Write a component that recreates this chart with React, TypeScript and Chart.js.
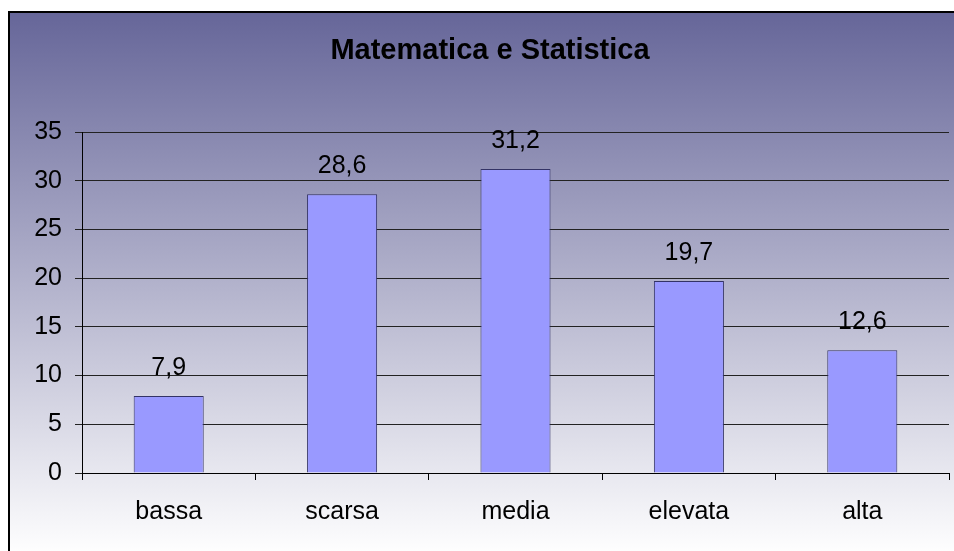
import React, { useEffect, useRef } from "react";
import { Chart, registerables } from "chart.js";

Chart.register(...registerables);

const chartTitle = "Matematica e Statistica";
const categories = ["bassa", "scarsa", "media", "elevata", "alta"];
const values = [7.9, 28.6, 31.2, 19.7, 12.6];
const valueLabels = ["7,9", "28,6", "31,2", "19,7", "12,6"];
const yMin = 0;
const yMax = 35;
const yStep = 5;

const FONT = "'Liberation Sans', Arial, sans-serif";

const dataLabelPlugin = {
  id: "dataLabels",
  afterDatasetsDraw(chart: any) {
    const ctx = chart.ctx;
    const meta = chart.getDatasetMeta(0);
    ctx.save();
    ctx.font = `25px ${FONT}`;
    ctx.fillStyle = "#000";
    ctx.textAlign = "center";
    ctx.textBaseline = "alphabetic";
    meta.data.forEach((bar: any, i: number) => {
      ctx.fillText(valueLabels[i], bar.x, bar.y - 21);
    });
    ctx.restore();
  },
};

export default function App() {
  const ref = useRef<HTMLCanvasElement | null>(null);

  useEffect(() => {
    if (!ref.current) return;
    const chart = new Chart(ref.current, {
      type: "bar",
      data: {
        labels: categories,
        datasets: [
          {
            data: values,
            backgroundColor: "#9999ff",
            borderColor: "#333366",
            borderWidth: 1,
            barPercentage: 0.404,
            categoryPercentage: 1,
          },
        ],
      },
      options: {
        animation: false,
        responsive: false,
        devicePixelRatio: 1,
        layout: { padding: { top: 0, left: 21, right: 21, bottom: 0 } },
        plugins: {
          legend: { display: false },
          tooltip: { enabled: false },
          title: {
            display: true,
            text: chartTitle,
            color: "#000",
            font: { family: FONT, size: 29, weight: "bold", lineHeight: 1.2 },
            padding: { top: 21, bottom: 63.2 },
          },
        },
        scales: {
          x: {
            grid: {
              offset: true,
              drawOnChartArea: false,
              drawTicks: true,
              tickLength: 7,
              color: "#000",
            },
            border: { color: "#000", width: 1 },
            ticks: {
              color: "#000",
              font: { family: FONT, size: 25 },
              padding: 17,
              maxRotation: 0,
            },
            afterFit: (s: any) => {
              s.height = 100;
            },
          },
          y: {
            min: yMin,
            max: yMax,
            grid: {
              color: "#222",
              lineWidth: 1,
              drawTicks: true,
              tickLength: 7,
            },
            border: { color: "#000", width: 1 },
            ticks: {
              stepSize: yStep,
              color: "#000",
              font: { family: FONT, size: 25 },
              padding: 13,
            },
            afterFit: (s: any) => {
              s.width = 51;
            },
          },
        },
      },
      plugins: [dataLabelPlugin],
    });
    return () => chart.destroy();
  }, []);

  return (
    <div
      style={{
        position: "fixed",
        left: 8,
        top: 11,
        width: 1000,
        height: 545,
        overflow: "hidden",
        borderTop: "2px solid #000",
        borderLeft: "2px solid #000",
        boxSizing: "border-box",
        background: "linear-gradient(to bottom, #666699 0%, #ffffff 100%)",
      }}
    >
      <canvas ref={ref} width={960} height={560} style={{ display: "block" }} />
    </div>
  );
}
